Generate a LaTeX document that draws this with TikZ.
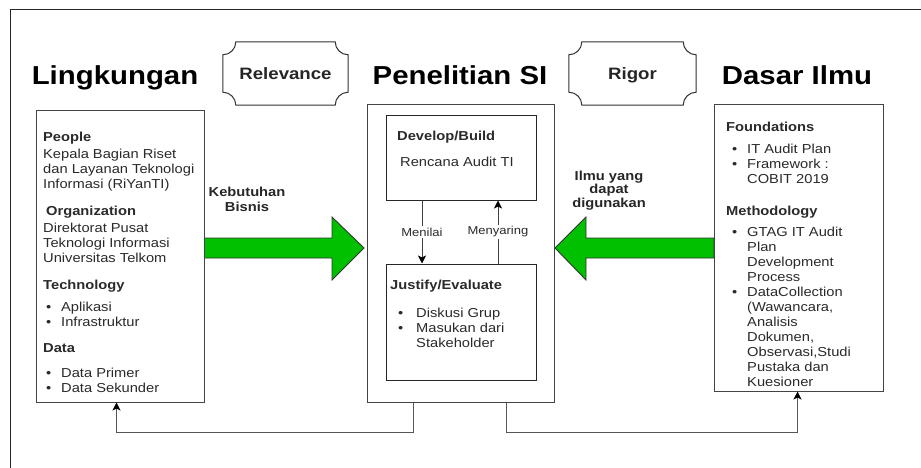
\documentclass[tikz,border=0pt]{standalone}
\usepackage{fontspec}
\setmainfont{Liberation Sans}[FakeStretch=1.13]
\usetikzlibrary{arrows.meta,calc}
\definecolor{txt}{HTML}{2A2A2A}
\definecolor{brd}{HTML}{444444}
\definecolor{lnk}{HTML}{555555}
\definecolor{grn}{HTML}{00C000}
\newcommand{\myplaque}[1]{%
  \draw[plq] ($(#1.north west)+(13,0)$) -- ($(#1.north east)+(-13,0)$)
    .. controls ($(#1.north east)+(-13,7.2)$) and ($(#1.north east)+(-7.2,13)$) .. ($(#1.north east)+(0,13)$)
    -- ($(#1.south east)+(0,-13)$)
    .. controls ($(#1.south east)+(-7.2,-13)$) and ($(#1.south east)+(-13,-7.2)$) .. ($(#1.south east)+(-13,0)$)
    -- ($(#1.south west)+(13,0)$)
    .. controls ($(#1.south west)+(13,-7.2)$) and ($(#1.south west)+(7.2,-13)$) .. ($(#1.south west)+(0,-13)$)
    -- ($(#1.north west)+(0,13)$)
    .. controls ($(#1.north west)+(7.2,13)$) and ($(#1.north west)+(13,7.2)$) .. cycle;}
\begin{document}
\begin{tikzpicture}[x=1pt,y=-1pt,
  box/.style={draw=brd,line width=1pt,fill=white,inner sep=0pt},
  inbox/.style={draw=black!85,line width=1pt,fill=white,inner sep=0pt},
  plq/.style={draw=black!80,line width=1pt},
  ttl/.style={font=\fontsize{26}{30}\selectfont\bfseries,text=black,inner sep=0pt,text height=18.6pt,text depth=0pt},
  plqtxt/.style={inner sep=0pt,text height=12pt,text depth=0pt,font=\fontsize{16.5}{18}\selectfont\bfseries,text=black!85},
  body/.style={font=\fontsize{13}{15}\selectfont,text=txt,align=left,anchor=north west,inner sep=0pt},
  blbl/.style={font=\fontsize{13}{15}\selectfont\bfseries,text=black!85,align=center,anchor=north,inner sep=0pt},
  small/.style={font=\fontsize{11.5}{13}\selectfont,text=txt,fill=white,inner sep=1.5pt},
  fb/.style={draw=lnk,line width=1pt,-{Stealth[length=8pt,width=8pt,inset=2pt,color=black]}},
  ia/.style={draw=black!75,line width=1pt,-{Stealth[length=8pt,width=8pt,inset=2pt,color=black]}},
  garrow/.style={fill=grn,draw=black!80,line width=0.9pt}
]
\useasboundingbox (0,0) rectangle (921,468);
\fill[white] (0,0) rectangle (921,468);
% frame
\draw[black!85,line width=1pt] (10,468) -- (10,10) -- (921,10);

% titles
\node[ttl] (tL) at (115,75) {Lingkungan};
\node[ttl] (tP) at (460,75) {Penelitian SI};
\node[ttl] (tD) at (797,75) {Dasar Ilmu};

% plaques
\node[plqtxt,minimum width=125pt,minimum height=63pt] (rel) at (285.5,73.5) {Relevance};
\myplaque{rel}
\node[plqtxt,minimum width=127pt,minimum height=63pt] (rig) at (632.5,73.5) {Rigor};
\myplaque{rig}

% green arrows
\draw[garrow] (204,238) -- (332,238) -- (332,217) -- (364,248) -- (332,280) -- (332,258) -- (204,258) -- cycle;
\draw[garrow] (714,238) -- (586,238) -- (586,217) -- (555,248) -- (586,280) -- (586,258) -- (714,258) -- cycle;

% boxes
\node[box,minimum width=168pt,minimum height=291pt] (L) at (120,256.5) {};
\node[box,minimum width=187pt,minimum height=297pt] (M) at (460.5,253.5) {};
\node[box,minimum width=169pt,minimum height=286pt] (R) at (798.5,248) {};
\node[inbox,minimum width=150pt,minimum height=84pt] (D) at (461,158) {};
\node[inbox,minimum width=150pt,minimum height=116pt] (J) at (461,322) {};

% left box text
\node[body] (Ltxt) at (43,131.5) {%
\textbf{People}\\[2pt]
Kepala Bagian Riset\\
dan Layanan Teknologi\\
Informasi (RiYanTI)\\[12pt]
\hspace*{3pt}\textbf{Organization}\\[2pt]
Direktorat Pusat\\
Teknologi Informasi\\
Universitas Telkom\\[12pt]
\textbf{Technology}\\[7pt]
\hspace*{3pt}\makebox[15pt][l]{\textbullet}Aplikasi\\
\hspace*{3pt}\makebox[15pt][l]{\textbullet}Infrastruktur\\[11pt]
\textbf{Data}\\[10pt]
\hspace*{3pt}\makebox[15pt][l]{\textbullet}Data Primer\\
\hspace*{3pt}\makebox[15pt][l]{\textbullet}Data Sekunder};

% middle text
\node[body] (Dtxt) at (397,130.5) {%
\textbf{Develop/Build}\\[11pt]
\hspace*{3pt}Rencana Audit TI};
\node[body] (Jtxt) at (390,279.5) {%
\textbf{Justify/Evaluate}\\[13pt]
\hspace*{8pt}\makebox[18pt][l]{\textbullet}Diskusi Grup\\
\hspace*{8pt}\makebox[18pt][l]{\textbullet}Masukan dari\\
\hspace*{26pt}Stakeholder};

% right box text
\node[body] (Rtxt) at (726,121.5) {%
\textbf{Foundations}\\[7pt]
\hspace*{6pt}\makebox[15pt][l]{\textbullet}IT Audit Plan\\
\hspace*{6pt}\makebox[15pt][l]{\textbullet}Framework :\\
\hspace*{21pt}COBIT 2019\\[17pt]
\textbf{Methodology}\\[6pt]
\hspace*{6pt}\makebox[15pt][l]{\textbullet}GTAG IT Audit\\
\hspace*{21pt}Plan\\
\hspace*{21pt}Development\\
\hspace*{21pt}Process\\
\hspace*{6pt}\makebox[15pt][l]{\textbullet}DataCollection\\
\hspace*{21pt}(Wawancara,\\
\hspace*{21pt}Analisis\\
\hspace*{21pt}Dokumen,\\
\hspace*{21pt}Observasi,Studi\\
\hspace*{21pt}Pustaka dan\\
\hspace*{21pt}Kuesioner};

% arrow labels
\node[blbl] (kb) at (247,186.5) {Kebutuhan\\Bisnis};
\node[blbl,font=\fontsize{13}{13.5}\selectfont\bfseries] (ilmu) at (609,170.5) {Ilmu yang\\dapat\\digunakan};

% inner arrows
\draw[ia] ($(D.south)+(-39,0)$) -- ($(J.north)+(-39,0)$) node[small,midway] (mn) {Menilai};
\draw[ia] ($(J.north)+(37,0)$) -- ($(D.south)+(37,0)$) node[small,midway] (my) {Menyaring};

% feedback connectors
\draw[fb] ($(M.south west)+(47,0)$) -- ++(0,30) -| ($(L.south west)+(81,0)$);
\draw[fb] ($(M.south west)+(140,0)$) -- ++(0,30) -| ($(R.south west)+(84,0)$);
\end{tikzpicture}
\end{document}
